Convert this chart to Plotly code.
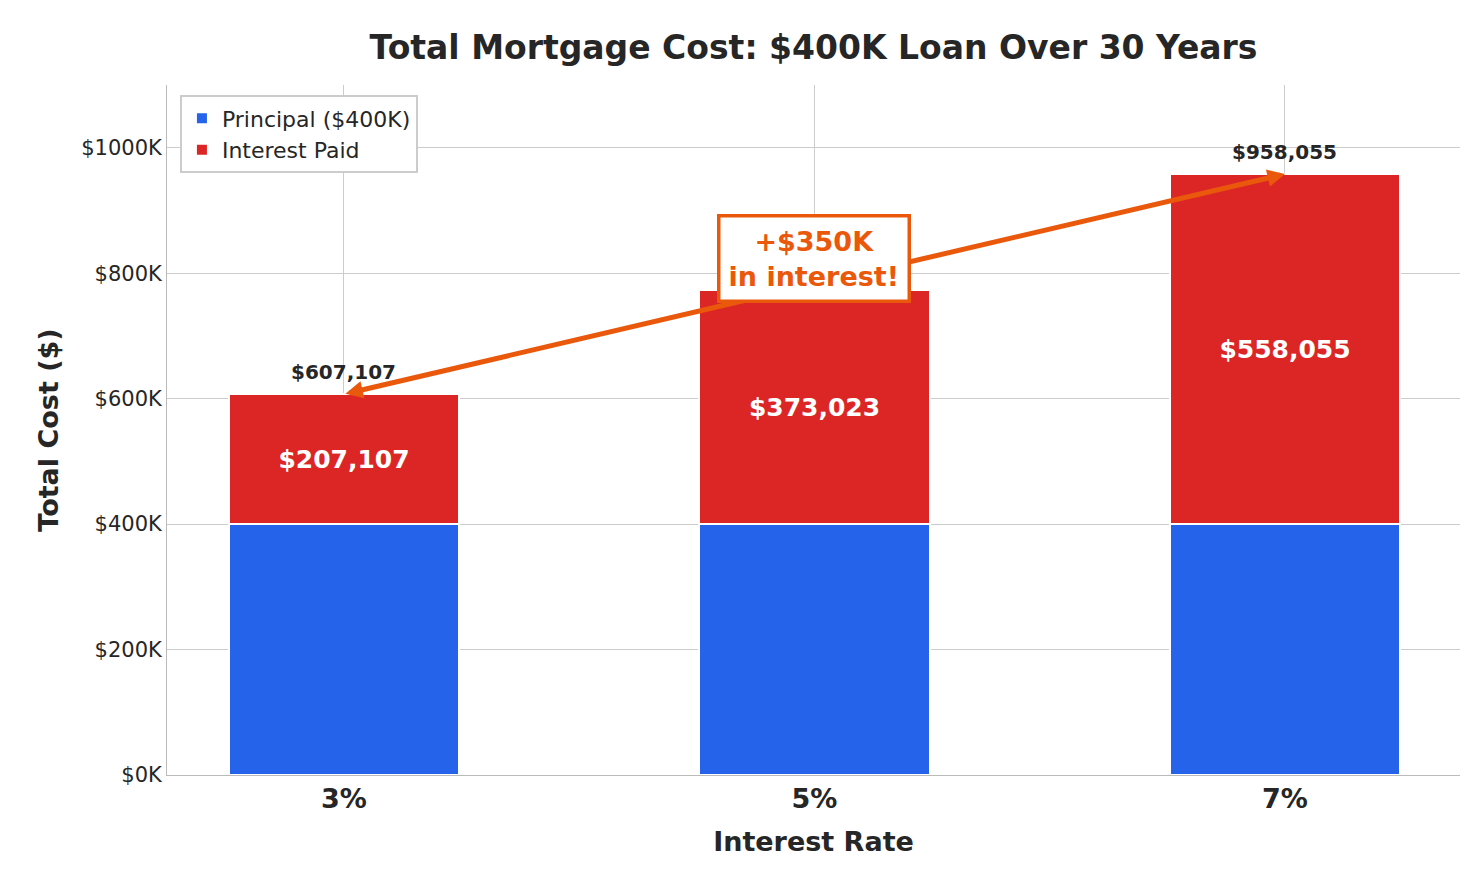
import plotly.graph_objects as go

rates = ["3%", "5%", "7%"]
principal = [400000, 400000, 400000]
interest = [207107, 373023, 558055]
totals = [607107, 773023, 958055]

font = "DejaVu Sans"
fig = go.Figure()
fig.add_bar(x=rates, y=principal, name="Principal ($400K)", marker=dict(color="#2563eb", line=dict(color="white", width=2)), width=0.49)
fig.add_bar(x=rates, y=interest, name="Interest Paid", marker=dict(color="#dc2626", line=dict(color="white", width=2)), width=0.49,
            text=[f"${v:,}" for v in interest], textposition="inside", insidetextanchor="middle",
            textfont=dict(color="white", size=25, family=font, weight="bold"))

for i, t in enumerate(totals):
    if i == 1:
        continue
    fig.add_annotation(x=rates[i], y=t, text=f"${t:,}", showarrow=False, yshift=22,
                       font=dict(size=20, color="#262626", family=font, weight="bold"))

fig.add_annotation(x=2, y=totals[2], ax=0, ay=totals[0], axref="x", ayref="y", xref="x", yref="y",
                   showarrow=True, arrowhead=2, startarrowhead=2, arrowside="end+start",
                   arrowcolor="#ea580c", arrowwidth=5, arrowsize=0.7, text="")
fig.add_annotation(x=1, y=823000, text="+$350K<br>in interest!", showarrow=False,
                   font=dict(size=27, color="#ea580c", family=font, weight="bold"),
                   bgcolor="white", bordercolor="#ea580c", borderwidth=3.5, borderpad=8)

fig.update_layout(
    barmode="stack", width=1476, height=874, plot_bgcolor="white", paper_bgcolor="white",
    font=dict(family=font, color="#262626", size=21),
    title=dict(text="<b>Total Mortgage Cost: $400K Loan Over 30 Years</b>", x=0.5, xref="paper", xanchor="center",
               y=0.955, yanchor="middle", font=dict(size=33)),
    margin=dict(l=159, r=24, t=77, b=107),
    legend=dict(x=0.01, y=0.985, xanchor="left", yanchor="top", bordercolor="#cccccc", borderwidth=2,
                bgcolor="white", font=dict(size=22), traceorder="normal"),
    bargap=0,
)
fig.update_xaxes(range=[-0.376, 2.372], showgrid=True, gridcolor="#cccccc", tickfont=dict(size=27, weight="bold"),
                 title=dict(text="<b>Interest Rate</b>", font=dict(size=27), standoff=18), showline=True, linecolor="#bbbbbb", ticks="")
fig.update_yaxes(range=[0, 1100000], tickvals=[0, 200000, 400000, 600000, 800000, 1000000],
                 ticktext=["$0K", "$200K", "$400K", "$600K", "$800K", "$1000K"], gridcolor="#cccccc",
                 title=dict(text="<b>Total Cost ($)</b>", font=dict(size=27), standoff=14), showline=True, linecolor="#bbbbbb",
                 zeroline=False)
fig.write_html("out.html")
